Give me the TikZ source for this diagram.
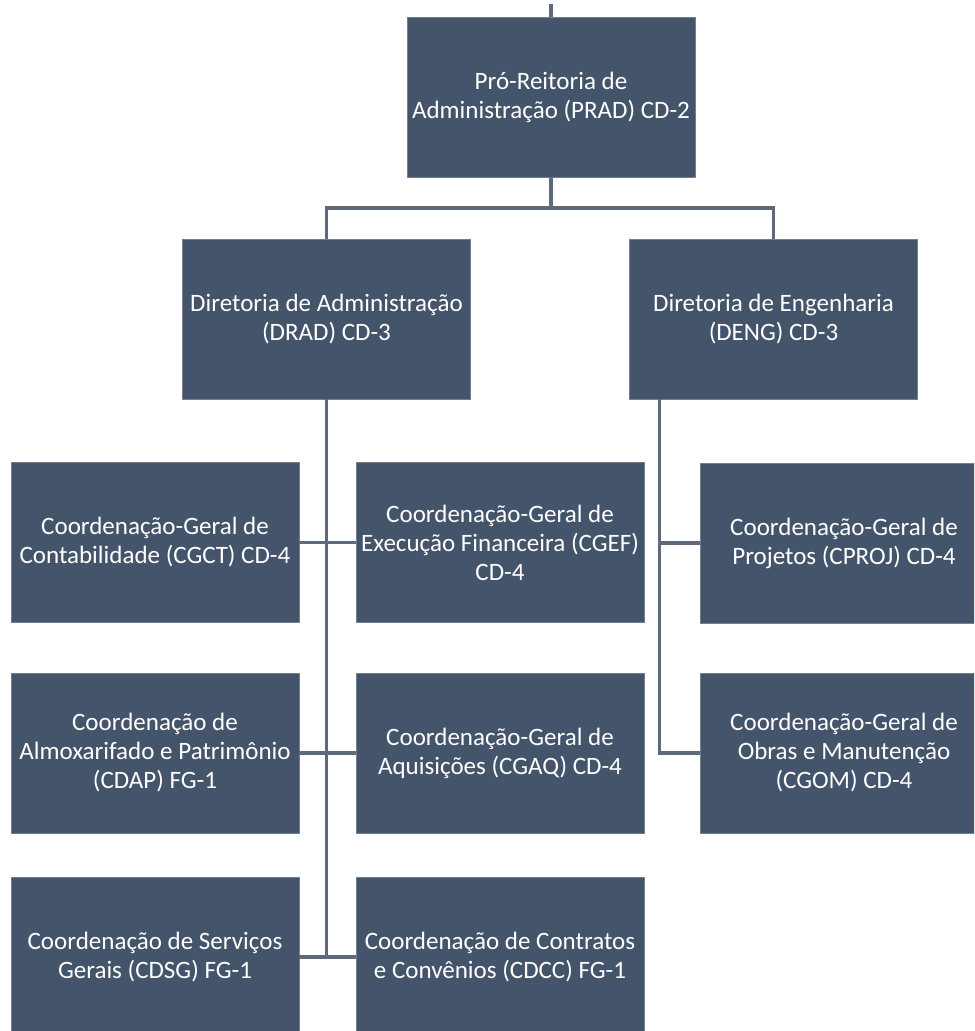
\documentclass[tikz,border=0pt]{standalone}
\usepackage{fontspec}
\setmainfont{Carlito}
\definecolor{orgbox}{HTML}{44546A}
\definecolor{orgline}{HTML}{5E6A7C}
\tikzset{
  unit/.style={fill=orgbox, draw=orgbox!75!white, line width=0.6pt, text=white,
    minimum width=7.2cm, minimum height=4cm, inner sep=0pt, align=center,
    font=\fontsize{17.8}{20.6}\selectfont},
  link/.style={draw=orgline, line width=2.2pt},
}

\begin{document}
\begin{tikzpicture}[x=0.025cm, y=-0.025cm]
    \useasboundingbox (0,0) rectangle (974,1031);
    \clip (0,0) rectangle (974,1031);
    %
    \node[unit] (prad) at (551,97) {Pró-Reitoria de\\Administração (PRAD) CD-2};
    \node[unit] (drad) at (326.5,319) {Diretoria de Administração\\(DRAD) CD-3};
    \node[unit] (deng) at (773.5,319) {Diretoria de Engenharia\\(DENG) CD-3};
    \node[unit] (cgct) at (155,542.5) {Coordenação-Geral de\\Contabilidade (CGCT) CD-4};
    \node[unit] (cgef) at (500,542.5) {Coordenação-Geral de\\Execução Financeira (CGEF)\\CD-4};
    \node[unit] (cproj) at (844,543) {Coordenação-Geral de\\Projetos (CPROJ) CD-4};
    \node[unit] (cdap) at (155,753) {Coordenação de\\Almoxarifado e Patrimônio\\(CDAP) FG-1};
    \node[unit] (cgaq) at (500,753) {Coordenação-Geral de\\Aquisições (CGAQ) CD-4};
    \node[unit] (cgom) at (844,753) {Coordenação-Geral de\\Obras e Manutenção\\(CGOM) CD-4};
    \node[unit] (cdsg) at (155,957) {Coordenação de Serviços\\Gerais (CDSG) FG-1};
    \node[unit] (cdcc) at (500,957) {Coordenação de Contratos\\e Convênios (CDCC) FG-1};
    %
    \coordinate (up) at (551,4);
    \coordinate (bar) at (551,208);
    \coordinate (dengbus) at ([xshift=0.75cm]deng.south west);
    \draw[link] (prad.north) -- (up);
    \draw[link] (prad.south) -- (bar);
    \draw[link] (drad.north) |- (bar) -| (deng.north);
    \draw[link] (drad.south) -- (drad.south |- cdsg.east);
    \draw[link] (cgct.east) -- (cgef.west);
    \draw[link] (cdap.east) -- (cgaq.west);
    \draw[link] (cdsg.east) -- (cdcc.west);
    \draw[link] (dengbus) |- (cgom.west);
    \draw[link] (dengbus |- cproj.west) -- (cproj.west);
  \end{tikzpicture}
\end{document}
